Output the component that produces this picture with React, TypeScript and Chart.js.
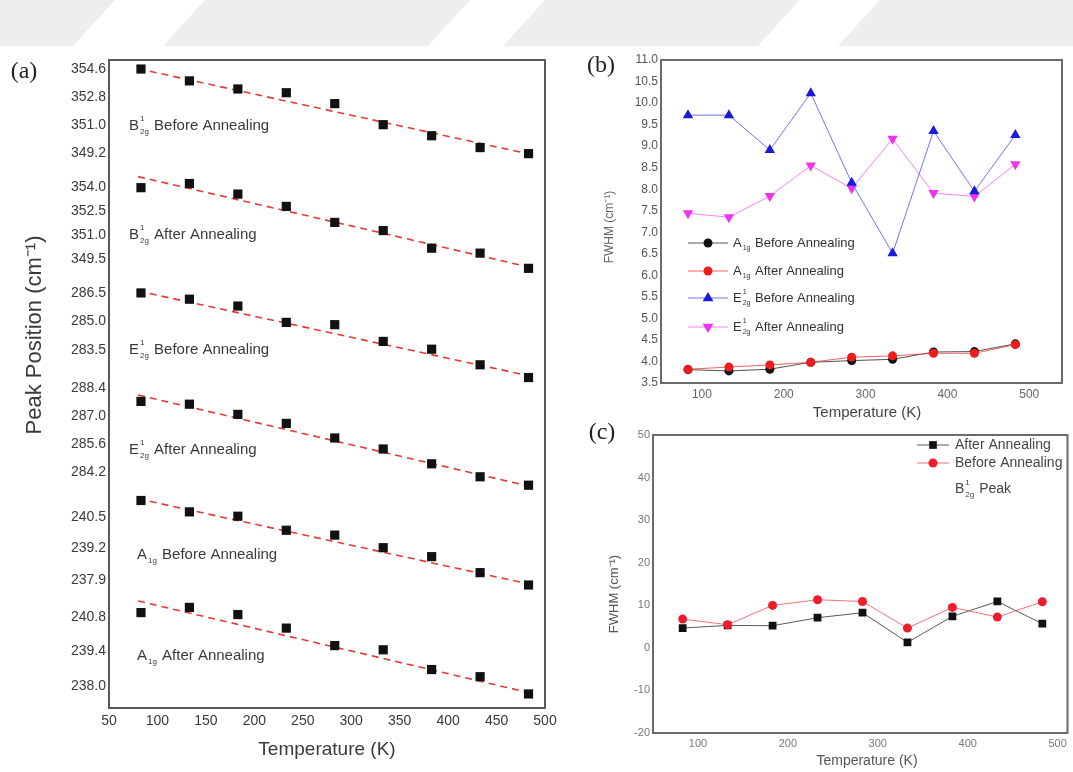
import React, { useEffect, useRef } from 'react';
import { Chart, registerables } from 'chart.js';
Chart.register(...registerables);

const SANS = '"Liberation Sans", Arial, sans-serif';
const SERIF = '"Liberation Serif", "DejaVu Serif", serif';

// ---------- shared temperatures ----------
const temps = [83, 133, 183, 233, 283, 333, 383, 433, 483];

// ---------- panel (a): peak positions (cm-1) ----------
const b2gBefore = [354.6, 353.84, 353.32, 353.08, 352.38, 351.03, 350.32, 349.56, 349.17];
const b2gAfter = [353.96, 354.22, 353.56, 352.79, 351.79, 351.28, 350.18, 349.87, 348.92];
const e2gBefore = [286.5, 286.17, 285.81, 284.95, 284.83, 283.95, 283.54, 282.72, 282.05];
const e2gAfter = [287.73, 287.59, 287.08, 286.63, 285.9, 285.35, 284.61, 283.96, 283.54];
const a1gBefore = [241.18, 240.71, 240.53, 239.95, 239.75, 239.23, 238.86, 238.2, 237.69];
const a1gAfter = [240.98, 241.19, 240.9, 240.35, 239.64, 239.47, 238.67, 238.38, 237.68];

// linear-fit end points (value at fitTemps[0], fitTemps[1])
const fitTemps = [80, 487];
const b2gBeforeFit = [354.62, 349.1];
const b2gAfterFit = [354.65, 348.95];
const e2gBeforeFit = [286.6, 282.1];
const e2gAfterFit = [288.05, 283.45];
const a1gBeforeFit = [241.25, 237.7];
const a1gAfterFit = [241.45, 237.7];

const xTicksA = [50, 100, 150, 200, 250, 300, 350, 400, 450, 500];
const b2gBeforeTicks = [354.6, 352.8, 351.0, 349.2];
const b2gAfterTicks = [354.0, 352.5, 351.0, 349.5];
const e2gBeforeTicks = [286.5, 285.0, 283.5];
const e2gAfterTicks = [288.4, 287.0, 285.6, 284.2];
const a1gBeforeTicks = [240.5, 239.2, 237.9];
const a1gAfterTicks = [240.8, 239.4, 238.0];

// ---------- panel (b): FWHM ----------
const a1gBeforeFwhm = [3.81, 3.78, 3.82, 3.98, 4.02, 4.05, 4.22, 4.23, 4.41];
const a1gAfterFwhm = [3.82, 3.87, 3.92, 3.98, 4.1, 4.13, 4.19, 4.19, 4.39];
const e2gBeforeFwhm = [9.72, 9.72, 8.91, 10.23, 8.15, 6.51, 9.35, 7.95, 9.26];
const e2gAfterFwhm = [7.44, 7.35, 7.84, 8.55, 8.02, 9.17, 7.91, 7.83, 8.58];
const yTicksB = [3.5, 4.0, 4.5, 5.0, 5.5, 6.0, 6.5, 7.0, 7.5, 8.0, 8.5, 9.0, 9.5, 10.0, 10.5, 11.0];
const xTicksBC = [100, 200, 300, 400, 500];

// ---------- panel (c): B2g FWHM ----------
const b2gAfterFwhm = [4.65, 5.28, 5.2, 7.08, 8.25, 1.29, 7.39, 10.9, 5.67];
const b2gBeforeFwhm = [6.76, 5.43, 9.97, 11.3, 10.9, 4.65, 9.5, 7.23, 10.83];
const yTicksC = [-20, -10, 0, 10, 20, 30, 40, 50];

type Mode = { base: string; sup: string; sub: string; rest: string };
const bandLabels: Mode[] = [
  { base: 'B', sup: '1', sub: '2g', rest: ' Before Annealing' },
  { base: 'B', sup: '1', sub: '2g', rest: ' After Annealing' },
  { base: 'E', sup: '1', sub: '2g', rest: ' Before Annealing' },
  { base: 'E', sup: '1', sub: '2g', rest: ' After Annealing' },
  { base: 'A', sup: '', sub: '1g', rest: ' Before Annealing' },
  { base: 'A', sup: '', sub: '1g', rest: ' After Annealing' },
];
const legendB: Mode[] = [
  { base: 'A', sup: '', sub: '1g', rest: ' Before Annealing' },
  { base: 'A', sup: '', sub: '1g', rest: ' After Annealing' },
  { base: 'E', sup: '1', sub: '2g', rest: ' Before Annealing' },
  { base: 'E', sup: '1', sub: '2g', rest: ' After Annealing' },
];
const legendC = ['After Annealing', 'Before Annealing'];
const peakLabelC: Mode = { base: 'B', sup: '1', sub: '2g', rest: ' Peak' };

const pts = (ys: number[]) => temps.map((t, i) => ({ x: t, y: ys[i] }));
const fitPts = (ys: number[]) => fitTemps.map((t, i) => ({ x: t, y: ys[i] }));

function drawMode(ctx: CanvasRenderingContext2D, x: number, y: number, m: Mode, size: number, color: string) {
  ctx.save();
  ctx.fillStyle = color;
  ctx.textBaseline = 'middle';
  ctx.textAlign = 'left';
  ctx.font = `${size}px ${SANS}`;
  ctx.fillText(m.base, x, y);
  let cx = x + ctx.measureText(m.base).width;
  const small = Math.max(7, Math.round(size * 0.55));
  ctx.font = `${small}px ${SANS}`;
  let w = 0;
  if (m.sup) {
    ctx.fillText(m.sup, cx + 1, y - size * 0.45);
    w = Math.max(w, ctx.measureText(m.sup).width);
  }
  if (m.sub) {
    ctx.fillText(m.sub, cx + 1, y + size * 0.4);
    w = Math.max(w, ctx.measureText(m.sub).width);
  }
  cx += w + 2;
  ctx.font = `${size}px ${SANS}`;
  ctx.fillText(m.rest, cx, y);
  ctx.restore();
}

function drawText(ctx: CanvasRenderingContext2D, text: string, x: number, y: number, font: string, color: string, rot = 0, align: CanvasTextAlign = 'center') {
  ctx.save();
  ctx.translate(x, y);
  if (rot) ctx.rotate(rot);
  ctx.font = font;
  ctx.fillStyle = color;
  ctx.textAlign = align;
  ctx.textBaseline = 'middle';
  ctx.fillText(text, 0, 0);
  ctx.restore();
}

function drawMarker(ctx: CanvasRenderingContext2D, style: string, x: number, y: number, r: number, color: string) {
  ctx.save();
  ctx.fillStyle = color;
  ctx.beginPath();
  if (style === 'circle') ctx.arc(x, y, r, 0, Math.PI * 2);
  else if (style === 'rect') ctx.rect(x - r * 0.7, y - r * 0.7, r * 1.4, r * 1.4);
  else if (style === 'tri') {
    ctx.moveTo(x, y - r);
    ctx.lineTo(x + r * 0.9, y + r * 0.55);
    ctx.lineTo(x - r * 0.9, y + r * 0.55);
    ctx.closePath();
  } else {
    ctx.moveTo(x, y + r);
    ctx.lineTo(x + r * 0.9, y - r * 0.55);
    ctx.lineTo(x - r * 0.9, y - r * 0.55);
    ctx.closePath();
  }
  ctx.fill();
  ctx.restore();
}

function frame(chart: any, color: string, width: number) {
  const { ctx, chartArea: a } = chart;
  ctx.save();
  ctx.strokeStyle = color;
  ctx.lineWidth = width;
  ctx.strokeRect(a.left, a.top, a.right - a.left, a.bottom - a.top);
  ctx.restore();
}

const noGrid = { display: false, drawTicks: false };
const noBorder = { display: false };

function configA(): any {
  const bands = [
    // listed bottom -> top (stacked axes are placed with the last one on top)
    { id: 'yA1gAfter', data: a1gAfter, fit: a1gAfterFit, ticks: a1gAfterTicks, min: 237.11, max: 241.49 },
    { id: 'yA1gBefore', data: a1gBefore, fit: a1gBeforeFit, ticks: a1gBeforeTicks, min: 237.07, max: 241.53 },
    { id: 'yE2gAfter', data: e2gAfter, fit: e2gAfterFit, ticks: e2gAfterTicks, min: 283.2, max: 288.6 },
    { id: 'yE2gBefore', data: e2gBefore, fit: e2gBeforeFit, ticks: e2gBeforeTicks, min: 281.71, max: 287.39 },
    { id: 'yB2gAfter', data: b2gAfter, fit: b2gAfterFit, ticks: b2gAfterTicks, min: 348.44, max: 355.19 },
    { id: 'yB2gBefore', data: b2gBefore, fit: b2gBeforeFit, ticks: b2gBeforeTicks, min: 348.25, max: 355.18 },
  ];
  const scales: any = {
    x: {
      type: 'linear',
      position: 'bottom',
      min: 50,
      max: 500,
      afterBuildTicks: (ax: any) => { ax.ticks = xTicksA.map((v) => ({ value: v })); },
      ticks: { font: { family: SANS, size: 14 }, color: '#3a3a3a', padding: 5, maxRotation: 0, autoSkip: false },
      grid: noGrid,
      border: noBorder,
      afterFit: (s: any) => { s.height = 50; },
    },
  };
  const datasets: any[] = [];
  bands.forEach((b) => {
    scales[b.id] = {
      type: 'linear',
      position: 'left',
      stack: 'bands',
      stackWeight: 1,
      min: b.min,
      max: b.max,
      afterBuildTicks: (ax: any) => { ax.ticks = b.ticks.map((v) => ({ value: v })); },
      ticks: {
        font: { family: SANS, size: 14 },
        color: '#3a3a3a',
        padding: 3,
        autoSkip: false,
        callback: (v: any) => Number(v).toFixed(1),
      },
      grid: noGrid,
      border: noBorder,
      afterFit: (s: any) => { s.width = 60; },
    };
    datasets.push({
      data: pts(b.data),
      yAxisID: b.id,
      pointStyle: 'rect',
      pointRadius: 6.5,
      backgroundColor: '#111',
      borderColor: '#111',
      borderWidth: 0,
      showLine: false,
      order: 0,
    });
    datasets.push({
      data: fitPts(b.fit),
      yAxisID: b.id,
      showLine: true,
      borderColor: '#e53935',
      borderWidth: 1.6,
      borderDash: [7, 5],
      pointRadius: 0,
      order: 1,
    });
  });
  const deco = {
    id: 'decoA',
    beforeDraw(chart: any) {
      const ctx = chart.ctx;
      ctx.save();
      ctx.fillStyle = '#eeeeee';
      const bandsTop = [[-60, 115], [205, 470], [545, 800], [880, 1120]];
      bandsTop.forEach(([a, b]) => {
        ctx.beginPath();
        ctx.moveTo(a, 0);
        ctx.lineTo(b, 0);
        ctx.lineTo(b - 42, 46);
        ctx.lineTo(a - 42, 46);
        ctx.closePath();
        ctx.fill();
      });
      ctx.restore();
    },
    afterDraw(chart: any) {
      const ctx = chart.ctx;
      frame(chart, '#5a5a5a', 2);
      const labelPos = [[129, 126], [129, 235], [129, 350], [129, 450], [137, 555], [137, 656]];
      bandLabels.forEach((m, i) => drawMode(ctx, labelPos[i][0], labelPos[i][1], m, 15, '#3a3a3a'));
      drawText(ctx, 'Peak Position (cm\u207B\u00B9)', 35, 335, `22px ${SANS}`, '#3a3a3a', -Math.PI / 2);
      drawText(ctx, 'Temperature (K)', 327, 750, `19px ${SANS}`, '#3a3a3a');
      drawText(ctx, '(a)', 24, 72, `24px ${SERIF}`, '#222');
    },
  };
  return {
    type: 'scatter',
    data: { datasets },
    options: {
      animation: false,
      responsive: false,
      devicePixelRatio: 1,
      events: [],
      layout: { padding: { left: 49, right: 528, top: 60, bottom: 14 } },
      plugins: { legend: { display: false }, tooltip: { enabled: false } },
      scales,
    },
    plugins: [deco],
  };
}

function configB(): any {
  const series = [
    { data: a1gBeforeFwhm, color: '#111111', line: 'rgba(40,40,40,0.8)', style: 'circle', r: 4.5, order: 1 },
    { data: a1gAfterFwhm, color: '#ee1c1c', line: 'rgba(240,60,60,0.8)', style: 'circle', r: 4.5, order: 0 },
    { data: e2gBeforeFwhm, color: '#1a1ad8', line: 'rgba(90,90,240,0.85)', style: 'tri', r: 6, order: 2 },
    { data: e2gAfterFwhm, color: '#ee33ee', line: 'rgba(240,110,240,0.85)', style: 'tridown', r: 6, order: 3 },
  ];
  const datasets = series.map((s) => ({
    data: pts(s.data),
    showLine: true,
    borderColor: s.line,
    borderWidth: 1,
    pointStyle: s.style === 'circle' ? 'circle' : 'triangle',
    rotation: s.style === 'tridown' ? 180 : 0,
    pointRadius: s.r,
    pointBackgroundColor: s.color,
    pointBorderColor: s.color,
    pointBorderWidth: 0,
    order: s.order,
  }));
  const deco = {
    id: 'decoB',
    afterDraw(chart: any) {
      const ctx = chart.ctx;
      frame(chart, '#6a6a6a', 2);
      const ys = [243, 271, 298, 327];
      series.forEach((s, i) => {
        ctx.save();
        ctx.strokeStyle = s.line;
        ctx.lineWidth = 1;
        ctx.beginPath();
        ctx.moveTo(688, ys[i]);
        ctx.lineTo(728, ys[i]);
        ctx.stroke();
        ctx.restore();
        drawMarker(ctx, s.style, 708, ys[i], s.r, s.color);
        drawMode(ctx, 733, ys[i], legendB[i], 13, '#333');
      });
      drawText(ctx, 'FWHM (cm\u207B\u00B9)', 610, 227, `12px ${SANS}`, '#666', -Math.PI / 2);
      drawText(ctx, 'Temperature (K)', 867, 413, `15px ${SANS}`, '#444');
      drawText(ctx, '(b)', 601, 66, `24px ${SERIF}`, '#222');
    },
  };
  return {
    type: 'scatter',
    data: { datasets },
    options: {
      animation: false,
      responsive: false,
      devicePixelRatio: 1,
      events: [],
      layout: { padding: { left: 616, right: 11, top: 60, bottom: 349 } },
      plugins: { legend: { display: false }, tooltip: { enabled: false } },
      scales: {
        x: {
          type: 'linear', min: 50, max: 540,
          afterBuildTicks: (ax: any) => { ax.ticks = xTicksBC.map((v) => ({ value: v })); },
          ticks: { font: { family: SANS, size: 12 }, color: '#666', padding: 4, maxRotation: 0, autoSkip: false },
          grid: noGrid, border: noBorder,
          afterFit: (s: any) => { s.height = 40; },
        },
        y: {
          type: 'linear', min: 3.5, max: 11.0,
          afterBuildTicks: (ax: any) => { ax.ticks = yTicksB.map((v) => ({ value: v })); },
          ticks: { font: { family: SANS, size: 12 }, color: '#555', padding: 3, autoSkip: false, callback: (v: any) => Number(v).toFixed(1) },
          grid: noGrid, border: noBorder,
          afterFit: (s: any) => { s.width = 45; },
        },
      },
    },
    plugins: [deco],
  };
}

function configC(): any {
  const series = [
    { data: b2gAfterFwhm, color: '#111111', line: 'rgba(60,60,60,0.85)', style: 'rect', r: 5.5, order: 1 },
    { data: b2gBeforeFwhm, color: '#ee1c2c', line: 'rgba(240,90,100,0.85)', style: 'circle', r: 4.5, order: 0 },
  ];
  const datasets = series.map((s) => ({
    data: pts(s.data),
    showLine: true,
    borderColor: s.line,
    borderWidth: 1,
    pointStyle: s.style,
    pointRadius: s.r,
    pointBackgroundColor: s.color,
    pointBorderColor: s.color,
    pointBorderWidth: 0,
    order: s.order,
  }));
  const deco = {
    id: 'decoC',
    afterDraw(chart: any) {
      const ctx = chart.ctx;
      frame(chart, '#6a6a6a', 2);
      const ys = [445, 463];
      series.forEach((s, i) => {
        ctx.save();
        ctx.strokeStyle = s.line;
        ctx.lineWidth = 1;
        ctx.beginPath();
        ctx.moveTo(917, ys[i]);
        ctx.lineTo(949, ys[i]);
        ctx.stroke();
        ctx.restore();
        drawMarker(ctx, s.style, 933, ys[i], s.r, s.color);
        drawText(ctx, legendC[i], 955, ys[i], `14px ${SANS}`, '#444', 0, 'left');
      });
      drawMode(ctx, 955, 489, peakLabelC, 14, '#444');
      drawText(ctx, 'FWHM (cm\u207B\u00B9)', 614, 594, `13px ${SANS}`, '#555', -Math.PI / 2);
      drawText(ctx, 'Temperature (K)', 867, 761, `14px ${SANS}`, '#555');
      drawText(ctx, '(c)', 602, 433, `24px ${SERIF}`, '#222');
    },
  };
  return {
    type: 'scatter',
    data: { datasets },
    options: {
      animation: false,
      responsive: false,
      devicePixelRatio: 1,
      events: [],
      layout: { padding: { left: 613, right: 5, top: 435, bottom: 9 } },
      plugins: { legend: { display: false }, tooltip: { enabled: false } },
      scales: {
        x: {
          type: 'linear', min: 50, max: 511,
          afterBuildTicks: (ax: any) => { ax.ticks = xTicksBC.map((v) => ({ value: v })); },
          ticks: { font: { family: SANS, size: 11 }, color: '#777', padding: 4, maxRotation: 0, autoSkip: false },
          grid: noGrid, border: noBorder,
          afterFit: (s: any) => { s.height = 30; },
        },
        y: {
          type: 'linear', min: -20, max: 50,
          afterBuildTicks: (ax: any) => { ax.ticks = yTicksC.map((v) => ({ value: v })); },
          ticks: { font: { family: SANS, size: 11 }, color: '#777', padding: 3, autoSkip: false },
          grid: noGrid, border: noBorder,
          afterFit: (s: any) => { s.width = 40; },
        },
      },
    },
    plugins: [deco],
  };
}

export default function App() {
  const ra = useRef<HTMLCanvasElement>(null);
  const rb = useRef<HTMLCanvasElement>(null);
  const rc = useRef<HTMLCanvasElement>(null);
  useEffect(() => {
    const charts = [
      new Chart(ra.current!, configA()),
      new Chart(rb.current!, configB()),
      new Chart(rc.current!, configC()),
    ];
    return () => charts.forEach((c) => c.destroy());
  }, []);
  const cs: React.CSSProperties = { position: 'absolute', left: 0, top: 0 };
  return (
    <div style={{ position: 'absolute', left: 0, top: 0, width: 1073, height: 772, background: '#fff', overflow: 'hidden' }}>
      <canvas ref={ra} width={1073} height={772} style={cs} />
      <canvas ref={rb} width={1073} height={772} style={cs} />
      <canvas ref={rc} width={1073} height={772} style={cs} />
    </div>
  );
}
